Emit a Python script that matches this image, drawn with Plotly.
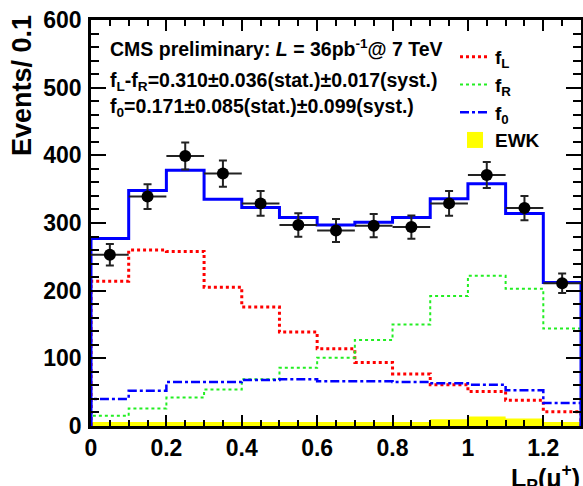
import numpy as np
import plotly.graph_objects as go

# ---- data ----
bin_edges = [0.0, 0.1, 0.2, 0.3, 0.4, 0.5, 0.6, 0.7, 0.8, 0.9, 1.0, 1.1, 1.2, 1.3]
bin_centers = [0.05, 0.15, 0.25, 0.35, 0.45, 0.55, 0.65, 0.75, 0.85, 0.95, 1.05, 1.15, 1.25]
data_counts = [253, 339, 399, 373, 329, 297, 289, 296, 294, 329, 371, 322, 211]
fit_total = [277, 348, 378, 335, 323, 308, 297, 301, 308, 336, 358, 314, 212]
f_L = [214, 260, 258, 205, 176, 139, 114, 94, 77, 61, 51, 38, 21]
f_R = [15, 26, 42, 54, 69, 86, 101, 127, 150, 192, 222, 203, 144]
f_0 = [40, 52, 65, 65, 68, 69, 66, 66, 65, 63, 61, 53, 34]
ewk = [6, 6, 6, 6, 6, 6, 6, 6, 6, 10, 14, 11, 6]
x_ticks = [0, 0.2, 0.4, 0.6, 0.8, 1.0, 1.2]
x_tick_text = ["0", "0.2", "0.4", "0.6", "0.8", "1", "1.2"]
y_ticks = [0, 100, 200, 300, 400, 500, 600]

FONT = "Liberation Sans, Arial, Helvetica, sans-serif"
W, H = 583, 486
L_M, R_M, T_M, B_M = 91, 2, 20, 60
PW, PH = W - L_M - R_M, H - T_M - B_M


def px_x(p):
    return (p - L_M) / PW


def px_y(p):
    return 1 - (p - T_M) / PH


def step(vals):
    xs = [bin_edges[0]] + list(bin_edges) + [bin_edges[-1]]
    ys = [0] + list(vals) + [vals[-1], 0]
    return xs, ys


fig = go.Figure()

fig.add_trace(go.Scatter(x=list(bin_edges), y=list(ewk) + [ewk[-1]], mode="lines",
                         line=dict(shape="hv", width=0, color="#ffff00"),
                         fill="tozeroy", fillcolor="#ffff00",
                         name="<b>EWK</b>", showlegend=False))

xs, ys = step(f_L)
fig.add_trace(go.Scatter(x=xs, y=ys, mode="lines", line=dict(shape="hv", width=3, color="#ff0000", dash="dot"),
                         name="<b>f<sub>L</sub></b>"))
xs, ys = step(f_R)
fig.add_trace(go.Scatter(x=xs, y=ys, mode="lines", line=dict(shape="hv", width=2, color="#22ee22", dash="dot"),
                         name="<b>f<sub>R</sub></b>"))
xs, ys = step(f_0)
fig.add_trace(go.Scatter(x=xs, y=ys, mode="lines", line=dict(shape="hv", width=2.5, color="#0000ff", dash="dashdot"),
                         name="<b>f<sub>0</sub></b>"))
# legend entry for EWK as a filled box
fig.add_trace(go.Scatter(x=[None], y=[None], mode="markers",
                         marker=dict(symbol="square", size=18, color="#ffff00"),
                         name="<b>EWK</b>"))

xs, ys = step(fit_total)
fig.add_trace(go.Scatter(x=xs, y=ys, mode="lines", line=dict(shape="hv", width=3, color="#0000ff"),
                         showlegend=False))

fig.add_trace(go.Scatter(x=bin_centers, y=data_counts, mode="markers",
                         marker=dict(size=12, color="black"),
                         error_y=dict(type="data", array=list(np.sqrt(data_counts)), thickness=2, width=4, color="#222222"),
                         error_x=dict(type="constant", value=0.05, thickness=2, width=0, color="#222222"),
                         showlegend=False))

axis_common = dict(showline=True, linecolor="black", linewidth=2.5, mirror="ticks", automargin=False,
                   ticks="inside", tickcolor="black", tickwidth=2, showgrid=False, zeroline=False,
                   tickfont=dict(family=FONT, size=23, color="black", weight="bold"))

fig.update_xaxes(range=[0, 1.3], tickvals=x_ticks, ticktext=x_tick_text, ticklen=11,
                 minor=dict(dtick=0.05, ticklen=6, ticks="inside", tickcolor="black", tickwidth=1.5, showgrid=False),
                 **axis_common)
fig.update_yaxes(range=[0, 600], tickvals=y_ticks, ticklen=15, ticklabelstandoff=2,
                 minor=dict(dtick=20, ticklen=8, ticks="inside", tickcolor="black", tickwidth=1.5, showgrid=False),
                 **axis_common)

ann_font = dict(family=FONT, size=19.5, color="black")
fig.add_annotation(xref="paper", yref="paper", x=px_x(108), y=px_y(48), xanchor="left", yanchor="middle",
                   text="<b>CMS preliminary: <i>L</i> = 36pb<sup>-1</sup>@ 7 TeV</b>", showarrow=False, font=ann_font)
fig.add_annotation(xref="paper", yref="paper", x=px_x(108), y=px_y(81), xanchor="left", yanchor="middle",
                   text="<b>f<sub>L</sub>-f<sub>R</sub>=0.310±0.036(stat.)±0.017(syst.)</b>", showarrow=False, font=ann_font)
fig.add_annotation(xref="paper", yref="paper", x=px_x(108), y=px_y(108), xanchor="left", yanchor="middle",
                   text="<b>f<sub>0</sub>=0.171±0.085(stat.)±0.099(syst.)</b>", showarrow=False, font=ann_font)

fig.add_annotation(xref="paper", yref="paper", x=px_x(22), y=px_y(86), xanchor="center", yanchor="middle",
                   textangle=-90, text="<b>Events/ 0.1</b>", showarrow=False,
                   font=dict(family=FONT, size=27, color="black"))
fig.add_annotation(xref="paper", yref="paper", x=px_x(582), y=px_y(478), xanchor="right", yanchor="middle",
                   text="<b>L<sub>P</sub>(μ<sup>+</sup>)</b>", showarrow=False,
                   font=dict(family=FONT, size=25, color="black"))

fig.update_layout(
    width=W, height=H,
    margin=dict(l=L_M, r=R_M, t=T_M, b=B_M, autoexpand=False),
    paper_bgcolor="white", plot_bgcolor="white",
    font=dict(family=FONT, color="black"),
    legend=dict(x=px_x(455), y=px_y(38), xanchor="left", yanchor="top",
                bgcolor="rgba(0,0,0,0)", font=dict(family=FONT, size=19, color="black"),
                itemwidth=30, tracegroupgap=0),
)

fig.write_html("out.html", config={"displayModeBar": False},
               post_script="document.body.style.margin='0px';")
